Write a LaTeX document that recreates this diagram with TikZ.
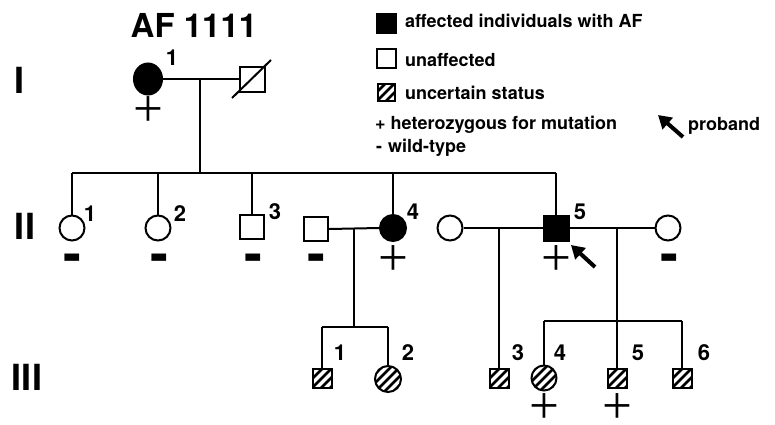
\documentclass[tikz,border=0pt]{standalone}
\usepackage{fontspec}
\newfontfamily\hv{TeX Gyre Heros}
\newfontfamily\tms{Liberation Serif}
\usetikzlibrary{shapes.geometric,arrows.meta}
\begin{document}
\begin{tikzpicture}[x=1pt,y=-1pt,
  conn/.style={line width=2pt},
  pmale/.style={draw,line width=2pt,rectangle,inner sep=0pt,minimum size=#1},
  pfemale/.style={draw,line width=2pt,circle,inner sep=0pt,minimum size=#1},
  aff/.style={fill=black},
  unc/.style={path picture={
      \foreach \k in {-36,-27,...,36}
        \draw[line width=2.7pt] ([xshift=\k pt-20pt,yshift=-20pt]path picture bounding box.center)
          -- ([xshift=\k pt+20pt,yshift=20pt]path picture bounding box.center);}},
  numlab/.style={font=\hv\bfseries\fontsize{22}{22}\selectfont,inner sep=0pt},
  genlab/.style={font=\hv\bfseries\fontsize{36}{36}\selectfont,inner sep=0pt},
  plusmark/.style={font=\tms\fontsize{53}{53}\selectfont,inner sep=0pt},
  minusmark/.style={font=\hv\bfseries\fontsize{54}{54}\selectfont,inner sep=0pt,anchor=base},
  legtext/.style={font=\hv\bfseries\fontsize{18}{18}\selectfont,inner sep=0pt,anchor=base west},
  prob/.style={line width=4pt,-{Triangle[length=13pt,width=15pt]}},
]
\useasboundingbox (0,0) rectangle (775,424);

% title and generation labels
\node[font=\hv\bfseries\fontsize{33}{33}\selectfont,inner sep=0pt] (title) at (194,25) {AF 1111};
\node[genlab] (gI) at (20,80) {I};
\node[genlab] (gII) at (25,226) {II};
\node[genlab] (gIII) at (27,377) {III};

% legend
\node[pmale=19,aff] (lA) at (386,23) {};
\node[pmale=19] (lU) at (386,58) {};
\node[pmale=17,unc] (lN) at (386,92) {};
\node[legtext] (tA) at (405,27) {affected individuals with AF};
\node[legtext] (tU) at (405,66) {unaffected};
\node[legtext] (tN) at (405,99) {uncertain status};
\node[legtext] (tH) at (375,129) {+ heterozygous for mutation};
\node[legtext] (tW) at (376,152) {-\hspace{6pt}wild-type};
\node[legtext] (tP) at (688,130) {proband};
\coordinate (lpt) at (683,137);
\coordinate (lph) at (658,115);
\draw[prob] (lpt) -- (lph);

% generation I
\node[draw,ellipse,aff,line width=2pt,inner sep=0pt,minimum width=28,minimum height=31] (I1) at (148,79) {};
\node[pmale=25] (I2) at (252,79) {};
\coordinate (d1) at (232,98);
\coordinate (d2) at (271,60);
\draw[conn] (d1) -- (d2);
\draw[conn] (I1.east) -- (I2.west);
\node[numlab] (nI1) at (172,58) {1};
\node[plusmark] (pI1) at (148,112) {+};
\coordinate (mI) at (200,79);
\coordinate (sII) at (200,173);
\draw[conn] (mI) -- (sII);

% generation II
\node[pfemale=25] (II1) at (72,228) {};
\node[pfemale=25] (II2) at (158,228) {};
\node[pmale=24] (II3) at (252,227) {};
\node[pmale=24] (S4) at (316,229) {};
\node[pfemale=26,aff] (II4) at (393,228) {};
\node[pfemale=25] (S5a) at (450,228) {};
\node[pmale=25,aff] (II5) at (556,228) {};
\node[pfemale=25] (S5b) at (668,228) {};

\coordinate (sIIl) at (72,173);
\coordinate (sIIr) at (556,173);
\draw[conn] (sIIl) -- (sIIr);
\draw[conn] (sIIl) -- (II1.north);
\draw[conn] (II2.north |- sIIl) -- (II2.north);
\draw[conn] (II3.north |- sIIl) -- (II3.north);
\draw[conn] (II4.north |- sIIl) -- (II4.north);
\draw[conn] (sIIr) -- (II5.north);

\draw[conn] (S4.east) -- (II4.west);
\draw[conn] (S5a.east) -- (II5.west);
\draw[conn] (II5.east) -- (S5b.west);

\node[numlab] (nII1) at (90,214) {1};
\node[numlab] (nII2) at (180,214) {2};
\node[numlab] (nII3) at (275,212) {3};
\node[numlab] (nII4) at (413,212) {4};
\node[numlab] (nII5) at (580,212) {5};

\node[minusmark] (mII1) at (72,272) {-};
\node[minusmark] (mII2) at (159,272) {-};
\node[minusmark] (mII3) at (253,272) {-};
\node[minusmark] (mS4) at (316,272) {-};
\node[minusmark] (mS5b) at (669,272) {-};
\node[plusmark] (pII4) at (393,261) {+};
\node[plusmark] (pII5) at (556,261) {+};

\coordinate (pat) at (595,267);
\coordinate (pah) at (571,245);
\draw[prob] (pat) -- (pah);

% generation III
\node[pmale=19,unc] (III1) at (322,378) {};
\node[pfemale=26,unc] (III2) at (388,379) {};
\node[pmale=19,unc] (III3) at (499,378) {};
\node[pfemale=25,unc] (III4) at (544,378) {};
\node[pmale=19,unc] (III5) at (617,378) {};
\node[pmale=19,unc] (III6) at (682,378) {};

\coordinate (m4) at (354,228);
\coordinate (s4) at (354,327);
\draw[conn] (m4) -- (s4);
\coordinate (s4l) at (322,327);
\coordinate (s4r) at (388,327);
\draw[conn] (s4l) -- (s4r);
\draw[conn] (s4l) -- (III1.north);
\draw[conn] (s4r) -- (III2.north);

\coordinate (m5a) at (499,228);
\draw[conn] (m5a) -- (III3.north);

\coordinate (m5b) at (617,228);
\coordinate (s5l) at (544,321);
\coordinate (s5r) at (682,321);
\draw[conn] (m5b) -- (III5.north);
\draw[conn] (s5l) -- (s5r);
\draw[conn] (s5l) -- (III4.north);
\draw[conn] (s5r) -- (III6.north);

\node[numlab] (nIII1) at (340,353) {1};
\node[numlab] (nIII2) at (408,353) {2};
\node[numlab] (nIII3) at (518,353) {3};
\node[numlab] (nIII4) at (560,353) {4};
\node[numlab] (nIII5) at (638,353) {5};
\node[numlab] (nIII6) at (704,353) {6};

\node[plusmark] (pIII4) at (544,409) {+};
\node[plusmark] (pIII5) at (617,409) {+};
\end{tikzpicture}
\end{document}
